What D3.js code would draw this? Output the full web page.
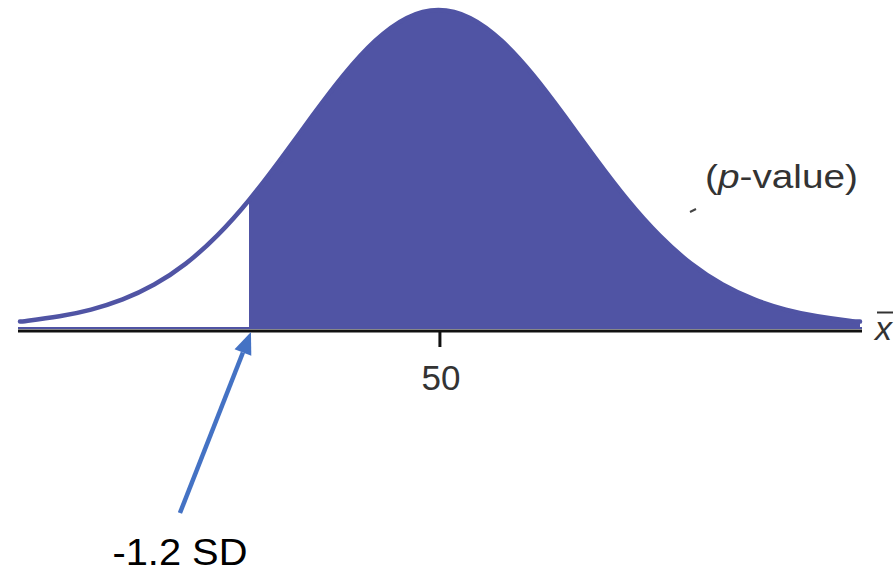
<!DOCTYPE html>
<html>
<head>
<meta charset="utf-8">
<script src="https://cdn.jsdelivr.net/npm/d3@7/dist/d3.min.js"></script>
<style>
  html, body { margin: 0; padding: 0; background: #ffffff; }
  svg { display: block; }
</style>
</head>
<body>
<svg id="chart" width="895" height="573"></svg>
<script>
// ---- data ----
// positions along the axis in SD units (mean = 0)
const zValues = [-2.65, -2.6, -2.4, -2.2, -2.0, -1.8, -1.6, -1.4, -1.2, -1.0, -0.8, -0.6, -0.4, -0.2, 0,
                 0.2, 0.4, 0.6, 0.8, 1.0, 1.2, 1.4, 1.6, 1.8, 2.0, 2.2, 2.4, 2.6, 2.67];
// relative curve height (peak = 1)
const density = [0.017, 0.020, 0.034, 0.055, 0.087, 0.134, 0.200, 0.289, 0.400, 0.529, 0.665, 0.795, 0.903, 0.975, 1,
                 0.975, 0.903, 0.795, 0.665, 0.529, 0.400, 0.289, 0.200, 0.134, 0.087, 0.055, 0.034, 0.020, 0.017];
const cutoffSD = -1.2;
const tickValues = [0];
const tickLabels = ["50"];
const cutoffLabel = "-1.2 SD";
const axisLabel = "x";

const points = zValues.map((z, i) => ({ z, h: density[i] }));

const svg = d3.select("#chart");
const x = d3.scaleLinear().domain([-2.65, 2.67]).range([20, 860]);
const y = d3.scaleLinear().domain([0, 1]).range([327, 10]);
const axisY = 331;
const fillColor = "#5054A4";

// shaded area (clipped at the cutoff)
svg.append("defs").append("clipPath").attr("id", "rightClip")
  .append("rect")
  .attr("x", x(cutoffSD)).attr("y", 0)
  .attr("width", 895 - x(cutoffSD)).attr("height", axisY);

const area = d3.area().x(d => x(d.z)).y0(y(0)).y1(d => y(d.h)).curve(d3.curveNatural);
const line = d3.line().x(d => x(d.z)).y(d => y(d.h)).curve(d3.curveNatural);

svg.append("path").datum(points)
  .attr("d", area)
  .attr("fill", fillColor)
  .attr("clip-path", "url(#rightClip)");

// curve outline
svg.append("path").datum(points)
  .attr("d", line)
  .attr("fill", "none")
  .attr("stroke", fillColor)
  .attr("stroke-width", 4.5)
  .attr("stroke-linecap", "round");

// thin purple base line above axis
svg.append("line")
  .attr("x1", 18).attr("x2", 862)
  .attr("y1", 328).attr("y2", 328)
  .attr("stroke", fillColor).attr("stroke-width", 2);

// x axis
const axis = d3.axisBottom(x)
  .tickValues(tickValues)
  .tickFormat((d, i) => tickLabels[i])
  .tickSizeOuter(0)
  .tickSizeInner(16)
  .tickPadding(18);
const gAxis = svg.append("g").attr("transform", `translate(0,${axisY})`).call(axis);
gAxis.select(".domain").remove();
gAxis.append("line")
  .attr("x1", 18).attr("x2", 862).attr("y1", 0).attr("y2", 0)
  .attr("stroke", "#111").attr("stroke-width", 3);
gAxis.selectAll(".tick line").attr("stroke", "#111").attr("stroke-width", 3)
  .attr("transform", "translate(1,0)");
gAxis.selectAll(".tick text")
  .attr("font-family", "'Liberation Sans', Arial, sans-serif")
  .attr("font-size", 35)
  .attr("fill", "#333")
  .attr("dx", 2)
  .attr("dy", "0.71em")
  .attr("y", 34);

// x-bar label
svg.append("text")
  .attr("x", 875).attr("y", 340)
  .attr("font-family", "'Liberation Sans', Arial, sans-serif")
  .attr("font-style", "italic")
  .attr("font-size", 34)
  .attr("fill", "#333")
  .text(axisLabel);
svg.append("line")
  .attr("x1", 877).attr("x2", 893).attr("y1", 312.5).attr("y2", 312.5)
  .attr("stroke", "#333").attr("stroke-width", 2);

// (p-value) label
const pv = svg.append("text")
  .attr("x", 705).attr("y", 188)
  .attr("font-family", "'Liberation Sans', Arial, sans-serif")
  .attr("font-size", 33)
  .attr("fill", "#333")
  .attr("textLength", 153)
  .attr("lengthAdjust", "spacingAndGlyphs");
pv.append("tspan").text("(");
pv.append("tspan").attr("font-style", "italic").text("p");
pv.append("tspan").text("-value)");

// small stray leader mark
svg.append("line")
  .attr("x1", 690).attr("y1", 212).attr("x2", 696).attr("y2", 209)
  .attr("stroke", "#444").attr("stroke-width", 2);

// arrow pointing to the cutoff
const tipX = x(cutoffSD) + 2, tipY = axisY + 1;
const baseX = tipX - 71, baseY = tipY + 181;
const dx = tipX - baseX, dy = tipY - baseY, len = Math.hypot(dx, dy);
const ux = dx / len, uy = dy / len;
const headLen = 22, headHalf = 9;
const hx = tipX - ux * headLen, hy = tipY - uy * headLen;
const arrowColor = "#4472C4";
svg.append("line")
  .attr("x1", baseX).attr("y1", baseY).attr("x2", hx).attr("y2", hy)
  .attr("stroke", arrowColor).attr("stroke-width", 4.5);
svg.append("path")
  .attr("d", `M${tipX},${tipY} L${hx - uy * headHalf},${hy + ux * headHalf} L${hx + uy * headHalf},${hy - ux * headHalf} Z`)
  .attr("fill", arrowColor);

// cutoff label
svg.append("text")
  .attr("x", baseX).attr("y", 565)
  .attr("text-anchor", "middle")
  .attr("font-family", "'Liberation Sans', Arial, sans-serif")
  .attr("font-size", 37)
  .attr("fill", "#000")
  .attr("textLength", 135)
  .attr("lengthAdjust", "spacingAndGlyphs")
  .text(cutoffLabel);
</script>
</body>
</html>
